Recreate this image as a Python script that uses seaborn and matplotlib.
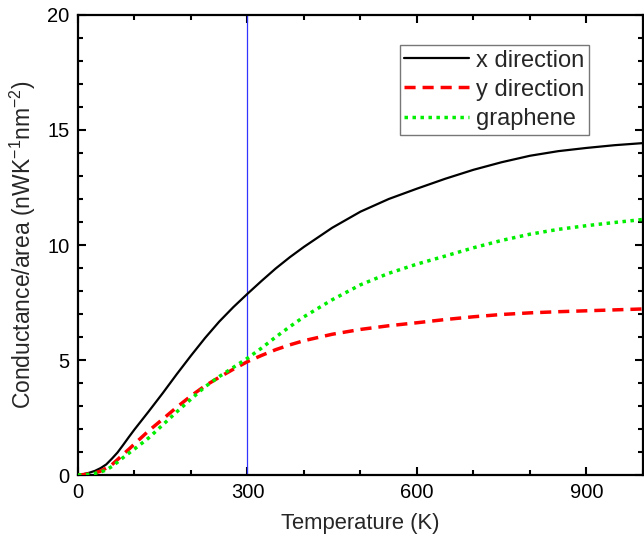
import matplotlib
matplotlib.use("Agg")
import matplotlib.pyplot as plt
import seaborn as sns
import pandas as pd
from matplotlib.ticker import MultipleLocator

temperature = [0, 10, 20, 30, 40, 50, 60, 70, 80, 90, 100, 125, 150, 175, 200, 225,
               250, 275, 300, 325, 350, 375, 400, 450, 500, 550, 600, 650, 700, 750,
               800, 850, 900, 950, 1000]
x_direction = [0.0, 0.04, 0.1, 0.18, 0.3, 0.46, 0.71, 0.98, 1.31, 1.65, 1.98, 2.76,
               3.56, 4.39, 5.19, 5.96, 6.67, 7.3, 7.88, 8.44, 8.98, 9.47, 9.92,
               10.75, 11.45, 12.0, 12.45, 12.88, 13.27, 13.6, 13.88, 14.08, 14.22,
               14.34, 14.43]
y_direction = [0.0, 0.02, 0.05, 0.09, 0.17, 0.3, 0.45, 0.67, 0.9, 1.12, 1.35, 1.92,
               2.43, 2.95, 3.44, 3.88, 4.25, 4.6, 4.93, 5.2, 5.45, 5.66, 5.84, 6.12,
               6.33, 6.49, 6.62, 6.76, 6.88, 6.98, 7.05, 7.1, 7.14, 7.18, 7.22]
graphene = [0.0, 0.01, 0.03, 0.07, 0.13, 0.22, 0.37, 0.56, 0.76, 0.95, 1.13, 1.61,
            2.18, 2.75, 3.3, 3.84, 4.28, 4.68, 5.08, 5.52, 6.0, 6.45, 6.88, 7.62,
            8.27, 8.77, 9.17, 9.52, 9.88, 10.2, 10.47, 10.68, 10.84, 10.98, 11.11]
series_labels = ["x direction", "y direction", "graphene"]
marker_T = 300

sns.set_style("ticks")
plt.rcParams["font.family"] = ["Liberation Sans", "DejaVu Sans"]
plt.rcParams["mathtext.fontset"] = "custom"
plt.rcParams["mathtext.rm"] = "Liberation Sans"
plt.rcParams["mathtext.it"] = "Liberation Sans"

fig = plt.figure(figsize=(6.44, 5.45), dpi=100)
ax = fig.add_axes([0.1211, 0.1284, 0.8773, 0.8441])

df = pd.DataFrame({"T": temperature, "x": x_direction, "y": y_direction, "g": graphene})

ax.axvline(marker_T, color="#3333ff", lw=0.9, zorder=1)
sns.lineplot(data=df, x="T", y="x", ax=ax, color="black", lw=1.6,
             label=series_labels[0], zorder=3)
sns.lineplot(data=df, x="T", y="y", ax=ax, color="#ff0000", lw=2.5,
             linestyle=(0, (3.2, 2.0)), label=series_labels[1], zorder=3)
sns.lineplot(data=df, x="T", y="g", ax=ax, color="#00ee00", lw=2.5,
             linestyle=(0, (1, 1.3)), label=series_labels[2], zorder=3)

ax.set_xlim(0, 1000)
ax.set_ylim(0, 20)
ax.xaxis.set_major_locator(MultipleLocator(300))
ax.xaxis.set_minor_locator(MultipleLocator(100))
ax.yaxis.set_major_locator(MultipleLocator(5))
ax.yaxis.set_minor_locator(MultipleLocator(1))
ax.tick_params(which="both", direction="in", top=True, right=True,
               labelsize=14.5, width=1.5, colors="black")
ax.tick_params(which="major", length=6, pad=6)
ax.tick_params(which="minor", length=3.5)
for s in ax.spines.values():
    s.set_linewidth(1.6)
    s.set_color("black")

ax.set_xlabel("Temperature (K)", fontsize=15.8, labelpad=8)
ax.set_ylabel(r"Conductance/area (nWK$^{-1}$nm$^{-2}$)", fontsize=16.5, labelpad=7)

leg = ax.legend(loc="upper right", bbox_to_anchor=(0.905, 0.935), borderaxespad=0,
                fontsize=17, handlelength=2.75, handletextpad=0.3,
                labelspacing=0.3, fancybox=False, frameon=True,
                borderpad=0.2)
leg.get_frame().set_edgecolor("#555555")
leg.get_frame().set_linewidth(1.0)

fig.savefig("out.png", dpi=100)
